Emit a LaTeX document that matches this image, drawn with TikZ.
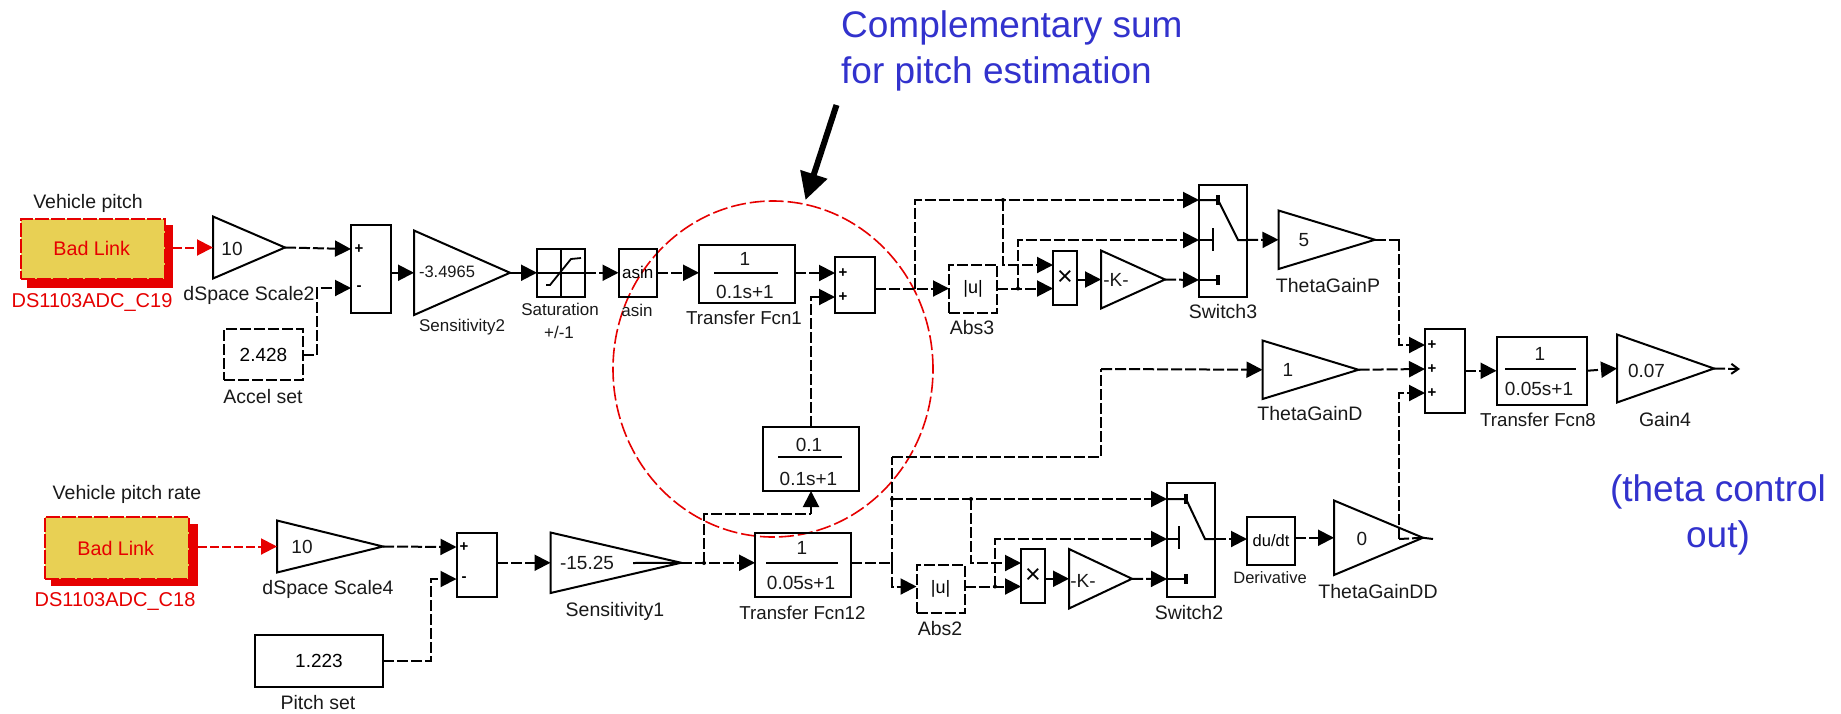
\documentclass[tikz,border=0pt]{standalone}
\usepackage{fontspec}
\setmainfont{Liberation Sans}
\usetikzlibrary{arrows.meta,shapes.geometric}
\definecolor{bad}{RGB}{230,0,0}
\definecolor{bady}{RGB}{232,208,84}
\definecolor{note}{RGB}{50,50,205}
\newcommand{\fs}[1]{\fontsize{#1}{#1}\selectfont}
\tikzset{
 x=1pt,y=-1pt,
 blk/.style={draw=black,line width=2pt,inner sep=0pt,outer sep=0pt,align=center,font=\fs{19}},
 dashblk/.style={dash pattern=on 11pt off 3pt},
 ghost/.style={inner sep=0pt,outer sep=0pt},
 tri/.style={draw=black,line width=2pt,line join=miter},
 lab/.style={inner sep=0pt,font=\fs{19.5},text=black!90},
 labt/.style={inner sep=0pt,font=\fs{18.7},text=black!90},
 labs/.style={inner sep=0pt,font=\fs{17},text=black!90},
 labr/.style={inner sep=0pt,font=\fs{20},text=bad},
 val/.style={inner sep=0pt,font=\fs{19},text=black!90},
 sign/.style={inner sep=0pt,font=\fs{15}\bfseries},
 wire/.style={draw=black,line width=2pt,dash pattern=on 11pt off 3pt},
 arr/.style={wire,-{Triangle[length=16pt,width=16pt]}},
 redarr/.style={draw=bad,line width=2pt,dash pattern=on 9pt off 3pt,-{Triangle[length=16pt,width=16pt]}},
 inner/.style={draw=black,line width=2pt},
 contact/.style={draw=black,line width=3.5pt},
 notetext/.style={inner sep=0pt,text=note},
}
\newcommand{\blkn}[7][]{\node[blk,#1,minimum width={(#5-#3)*1pt},minimum height={(#6-#4)*1pt}] (#2) at ({(#3+#5)/2},{(#4+#6)/2}) {#7};}
\newcommand{\gain}[5]{\node[ghost,minimum width={(#4-#2)*1pt},minimum height={(#5-#3)*1pt}] (#1) at ({(#2+#4)/2},{(#3+#5)/2}) {};
 \draw[tri] (#1.north west) -- (#1.east) -- (#1.south west) -- cycle;}
\begin{document}
\begin{tikzpicture}
\useasboundingbox (0,0) rectangle (1841,713);
\fill[white] (0,0) rectangle (1841,713);

% ---- note
\node[notetext,anchor=west,align=left,font=\fontsize{37}{46}\selectfont] (note1) at (841,51) {Complementary sum\\for pitch estimation};
\node[notetext,align=center,font=\fontsize{37}{46}\selectfont] (note2) at (1718,515) {(theta control\\out)};
\coordinate (bigfrom) at (836.5,105);
\coordinate (bigto) at (805.5,200);
\draw[line width=6pt,-{Triangle[length=27pt,width=27pt]}] (bigfrom) -- (bigto);
\node[ellipse,draw=bad,line width=1.6pt,dash pattern=on 15pt off 4pt,inner sep=0pt,minimum width=320pt,minimum height=336pt] (circ) at (773,369) {};

% ---- top row blocks
\fill[bad] (26.7,225) rectangle (172.7,287.5);
\blkn[draw=bad,fill=bady,dash pattern=on 14pt off 2pt,font=\fs{19.7},text=bad]{bad1}{20.5}{219}{165}{278.5}{\hspace*{-2pt}Bad Link}
\node[lab] (l1) at (88,203) {Vehicle pitch};
\node[labr] (l2) at (92,302) {DS1103ADC\_C19};
\gain{g1}{213}{216.5}{285}{278.5}
\node[val] (t1) at (232,249) {10};
\node[lab] (l3) at (249,295) {dSpace Scale2};
\blkn{s1}{351}{224.5}{391}{313}{}
\node[sign] (s1a) at (359,249) {+};
\node[sign] (s1b) at (359,288) {-};
\blkn[dashblk]{acc}{224}{329}{303}{380}{2.428}
\node[lab] (l4) at (263,397) {Accel set};
\gain{g2}{414}{230.5}{510}{315}
\node[inner sep=0pt,font=\fs{16.5},text=black!90] (t2) at (447,272) {-3.4965};
\node[labs] (l5) at (462,327) {Sensitivity2};
\blkn{sat}{537}{248.5}{585}{297}{}
\draw[line width=1.5pt] (sat.west) -- (sat.east) (sat.north) -- (sat.south);
\draw[line width=1.8pt] (546,285) -- (550,285) -- (571,259) -- (581,258);
\node[labs] (l6) at (560,309) {Saturation};
\node[labs] (l7) at (559,332) {+/-1};
\blkn[font=\fs{17}]{asn}{618.5}{248.5}{657}{297}{asin}
\node[labs] (l8) at (637,310) {asin};
\blkn{tf1}{699}{244.5}{795}{303}{}
\draw[line width=2pt] (714,273) -- (778,273);
\node[val] (n1) at (745,259) {1};
\node[val] (d1) at (745,292) {0.1s+1};
\node[labt] (l9) at (744,318) {Transfer Fcn1};
\blkn{s2}{835}{256.5}{875}{313}{}
\node[sign] (s2a) at (843,273) {+};
\node[sign] (s2b) at (843,297) {+};
\blkn[dashblk,font=\fs{18}]{abs3}{949}{264.5}{997}{313}{|u|}
\node[lab] (l10) at (972,328) {Abs3};
\blkn[font=\fs{27}]{p1}{1053}{250.5}{1077}{305}{×}
\gain{k1}{1101}{250.5}{1165}{308.5}
\node[val] (t3) at (1116,280) {-K-};
\blkn{sw3}{1199}{184.5}{1247}{297}{}
\node[lab] (l11) at (1223,312) {Switch3};
\gain{g3}{1278.5}{210.5}{1375}{269}
\node[val] (t4) at (1304,240) {5};
\node[lab] (l12) at (1328,286) {ThetaGainP};
\gain{g4}{1262.5}{340.5}{1358.5}{399}
\node[val] (t5) at (1288,370) {1};
\node[lab] (l13) at (1310,414) {ThetaGainD};
\blkn{s3}{1425}{328.5}{1465}{413}{}
\node[sign] (s3a) at (1432,345) {+};
\node[sign] (s3b) at (1432,369) {+};
\node[sign] (s3c) at (1432,393) {+};
\blkn{tf8}{1496.5}{336.5}{1587}{405}{}
\draw[line width=2pt] (1505,369) -- (1576,369);
\node[val] (n8) at (1540,354) {1};
\node[val] (d8) at (1539,389) {0.05s+1};
\node[labt] (l14) at (1538,420) {Transfer Fcn8};
\gain{g5}{1617}{334.5}{1714}{402.5}
\node[val] (t6) at (1646.5,370.5) {0.07};
\node[lab] (l15) at (1665,420) {Gain4};

% ---- bottom row blocks
\fill[bad] (50.5,524) rectangle (198,585.5);
\blkn[draw=bad,fill=bady,dash pattern=on 14pt off 2pt,font=\fs{19.7},text=bad]{bad2}{44.5}{517}{189}{579}{\hspace*{-2pt}Bad Link}
\node[lab] (l16) at (127,494) {Vehicle pitch rate};
\node[labr] (l17) at (115,601) {DS1103ADC\_C18};
\gain{g6}{277}{520.5}{383}{572.5}
\node[val] (t7) at (302,547) {10};
\node[lab] (l18) at (328,589) {dSpace Scale4};
\blkn{s4}{456.5}{532.5}{497}{597}{}
\node[sign] (s4a) at (464,547) {+};
\node[sign] (s4b) at (464,579) {-};
\blkn{pit}{255}{634.5}{383}{687}{1.223}
\node[lab] (l19) at (318,703) {Pitch set};
\gain{g7}{550.5}{532.5}{681}{593}
\node[val] (t8) at (587,563) {-15.25};
\draw[line width=2pt] (633,563) -- (g7.east);
\node[lab] (l20) at (615,611) {Sensitivity1};
\blkn{tf2}{763}{426.5}{859}{491}{}
\draw[line width=2pt] (778,457) -- (842,457);
\node[val] (n2) at (809,445) {0.1};
\node[val] (d2) at (808.5,479) {0.1s+1};
\blkn{tf12}{755}{532.5}{851}{597}{}
\draw[line width=2pt] (766,563) -- (838,563);
\node[val] (n12) at (802,548) {1};
\node[val] (d12) at (801,583) {0.05s+1};
\node[labt] (l21) at (802.5,613) {Transfer Fcn12};
\blkn[dashblk,font=\fs{18}]{abs2}{916.5}{564.5}{964.5}{613}{|u|}
\node[lab] (l22) at (940,629) {Abs2};
\blkn[font=\fs{27}]{p2}{1021}{548.5}{1045}{603}{×}
\gain{k2}{1069}{549}{1132}{608.5}
\node[val] (t9) at (1083,581) {-K-};
\blkn{sw2}{1167}{482.5}{1215}{596.5}{}
\node[lab] (l23) at (1189,613) {Switch2};
\blkn[font=\fs{16.5}]{der}{1247}{516.5}{1295}{565}{du/dt}
\node[inner sep=0pt,font=\fs{16.5},text=black!90] (l24) at (1270,578) {Derivative};
\gain{g8}{1334}{500.5}{1423}{575}
\node[val] (t10) at (1362,539) {0};
\node[lab] (l25) at (1378,592) {ThetaGainDD};

% ---- port coordinates
\coordinate (s1p1) at (351,249);
\coordinate (s1p2) at (351,288);
\coordinate (s2p1) at (835,273);
\coordinate (s2p2) at (835,297);
\coordinate (j1) at (915,288.5);
\coordinate (abs3in) at (949,288.5);
\coordinate (sw3p1) at (1199,200);
\coordinate (sw3p2) at (1199,240);
\coordinate (sw3p3) at (1199,280);
\coordinate (sw3o) at (1247,240);
\coordinate (p1a) at (1053,265);
\coordinate (p1b) at (1053,288.5);
\coordinate (j2) at (1003,200);
\coordinate (j3) at (1018,288.5);
\coordinate (s3p1) at (1425,345);
\coordinate (s3p2) at (1425,369);
\coordinate (s3p3) at (1425,393);
\coordinate (s4p1) at (456.5,547);
\coordinate (s4p2) at (456.5,579);
\coordinate (j4) at (704,563);
\coordinate (j5) at (892,563);
\coordinate (j6) at (892,499);
\coordinate (j7) at (971,499);
\coordinate (j8) at (995,586.5);
\coordinate (p2a) at (1021,563);
\coordinate (p2b) at (1021,586.5);
\coordinate (abs2in) at (916.5,586.5);
\coordinate (abs2o) at (964.5,586.5);
\coordinate (sw2p1) at (1167,499);
\coordinate (sw2p2) at (1167,539);
\coordinate (sw2p3) at (1167,579);
\coordinate (sw2o) at (1215,539);
\coordinate (outend) at (1740,369);
\coordinate (ddstub) at (1433,539);
\coordinate (x1) at (317,288);
\coordinate (x2) at (431,579);
\coordinate (x3) at (811,514);
\coordinate (x4) at (704,514);
\coordinate (x5) at (1101,457);
\coordinate (x6) at (1101,369);
\coordinate (x7) at (892,457);
\coordinate (x8) at (1399,240);
\coordinate (x9) at (1399,539);
\coordinate (x10) at (811,426.5);

% ---- connectors
\draw[redarr] (bad1.east |- g1.west) ++(8,0) -- (g1.west);
\draw[redarr] (bad2.east |- g6.west) ++(9,0) -- (g6.west);
\draw[arr] (g1.east) -- (s1p1);
\draw[arr] (acc.east) -| (x1) -- (s1p2);
\draw[arr] (s1.east |- g2.west) -- (g2.west);
\draw[arr] (g2.east) -- (sat.west);
\draw[arr] (sat.east) -- (asn.west);
\draw[arr] (asn.east) -- (tf1.west |- asn.east);
\draw[arr] (tf1.east |- s2p1) -- (s2p1);
\draw[arr] (x10) |- (s2p2);
\draw[arr] (s2.east |- j1) -- (abs3in);
\draw[arr] (j1) |- (sw3p1);
\draw[arr] (j2) |- (p1a);
\draw[arr] (abs3.east |- p1b) -- (p1b);
\draw[arr] (j3) |- (sw3p2);
\draw[arr] (p1.east |- k1.west) -- (k1.west);
\draw[arr] (k1.east) -- (sw3p3);
\draw[arr] (sw3o) -- (g3.west);
\draw[wire] (g3.east) -| (x8);
\draw[arr] (x8) |- (s3p1);
\draw[wire] (x7) -- (x5) -- (x6);
\draw[arr] (x6) -- (g4.west);
\draw[arr] (g4.east) -- (s3p2);
\draw[arr] (s3.east |- tf8.west) -- (tf8.west);
\draw[arr] (tf8.east) -- (g5.west);
\draw[wire,-{Straight Barb[length=7pt,width=10pt]}] (g5.east) -- (outend);
\draw[arr] (g6.east) -- (s4p1);
\draw[arr] (pit.east) -| (x2) -- (s4p2);
\draw[arr] (s4.east |- g7.west) -- (g7.west);
\draw[arr] (g7.east) -- (tf12.west |- g7.east);
\draw[wire] (j4) -- (x4) -- (x3);
\draw[arr] (x3) -- (tf2.south -| x3);
\draw[wire] (tf12.east |- j5) -- (j5);
\draw[wire] (j5) -- (x7);
\draw[arr] (j5) |- (abs2in);
\draw[arr] (j6) -- (sw2p1);
\draw[arr] (j7) |- (p2a);
\draw[arr] (abs2o) -- (p2b);
\draw[arr] (j8) |- (sw2p2);
\draw[arr] (p2.east |- k2.west) -- (k2.west);
\draw[arr] (k2.east) -- (sw2p3);
\draw[arr] (sw2o) -- (der.west |- sw2o);
\draw[arr] (der.east |- g8.west) -- (g8.west);
\draw[wire] (g8.east) -- (x9);
\draw[arr] (x9) |- (s3p3);
\draw[line width=2pt] (g8.east) -- (ddstub);
\foreach \p in {j2,j3,j4,j6,j7,j8} \fill (\p) circle (2pt);

% ---- switch internals
\draw[inner] (sw3p1) -- (1218,200) -- (1238,240) -- (sw3o);
\draw[contact] (1218,195) -- (1218,205);
\draw[inner] (sw3p2) -- (1213,240);
\draw[inner] (1213,228) -- (1213,251);
\draw[inner] (sw3p3) -- (1218,280);
\draw[contact] (1218,275) -- (1218,285);
\draw[inner] (sw2p1) -- (1186,499) -- (1205,539) -- (sw2o);
\draw[contact] (1186,494) -- (1186,504);
\draw[inner] (sw2p2) -- (1179,539);
\draw[inner] (1179,526) -- (1179,549);
\draw[inner] (sw2p3) -- (1186,579);
\draw[contact] (1186,574) -- (1186,584);
\end{tikzpicture}
\end{document}
